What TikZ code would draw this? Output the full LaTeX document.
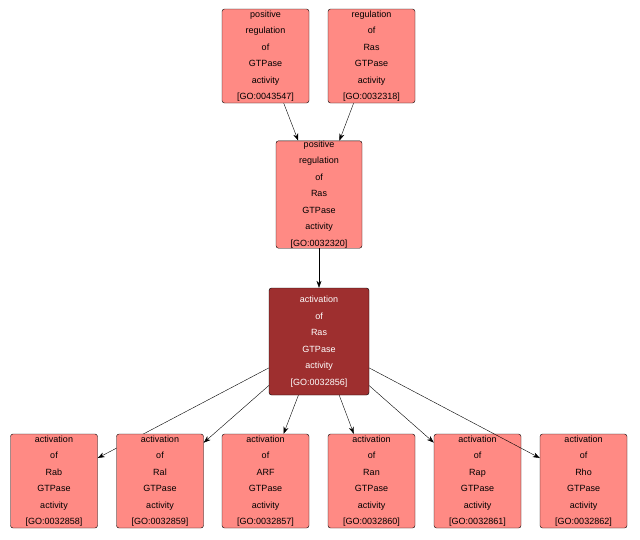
\documentclass[tikz,border=0pt]{standalone}
\usepackage{fontspec}
\setmainfont{Liberation Sans}
\usetikzlibrary{arrows.meta}
\definecolor{goterm}{HTML}{FF8A84}
\definecolor{goseed}{HTML}{9E2F2F}
\tikzset{
  term/.style={draw=black, fill=goterm, rounded corners=2.5pt, align=center,
    font=\fontsize{9}{16.5}\selectfont, inner sep=0pt},
  seed/.style={term, fill=goseed, text=white},
  isa/.style={-{Stealth[length=7pt,width=5pt]}, thin}
}
\begin{document}
\begin{tikzpicture}[x=1pt,y=-1pt]
  \useasboundingbox (0,0) rectangle (640,539);
  % top level
  \node[term, minimum width=87pt, minimum height=94pt] (posgtp) at (265.5,56)
    {positive\\regulation\\of\\GTPase\\activity\\{}[GO:0043547]};
  \node[term, minimum width=87pt, minimum height=94pt] (regras) at (371.5,56)
    {regulation\\of\\Ras\\GTPase\\activity\\{}[GO:0032318]};
  \node[term, minimum width=86pt, minimum height=107pt] (posras) at (319,194.5)
    {positive\\regulation\\of\\Ras\\GTPase\\activity\\{}[GO:0032320]};
  \node[seed, minimum width=100pt, minimum height=107pt] (actras) at (319,341.5)
    {activation\\of\\Ras\\GTPase\\activity\\{}[GO:0032856]};
  \draw[isa] (posgtp) -- (posras);
  \draw[isa] (regras) -- (posras);
  \draw[isa] (posras) -- (actras);
  % children
  \foreach \name/\x/\lbl/\go in {rab/54/Rab/0032858, ral/160/Ral/0032859,
      arf/265.5/ARF/0032857, ran/371.5/Ran/0032860, rap/477.5/Rap/0032861,
      rho/583.5/Rho/0032862}{
    \node[term, minimum width=87pt, minimum height=94pt] (\name) at (\x,481)
      {activation\\of\\\lbl\\GTPase\\activity\\{}[GO:\go]};
    \draw[isa] (actras) -- (\name);
  }
\end{tikzpicture}
\end{document}
